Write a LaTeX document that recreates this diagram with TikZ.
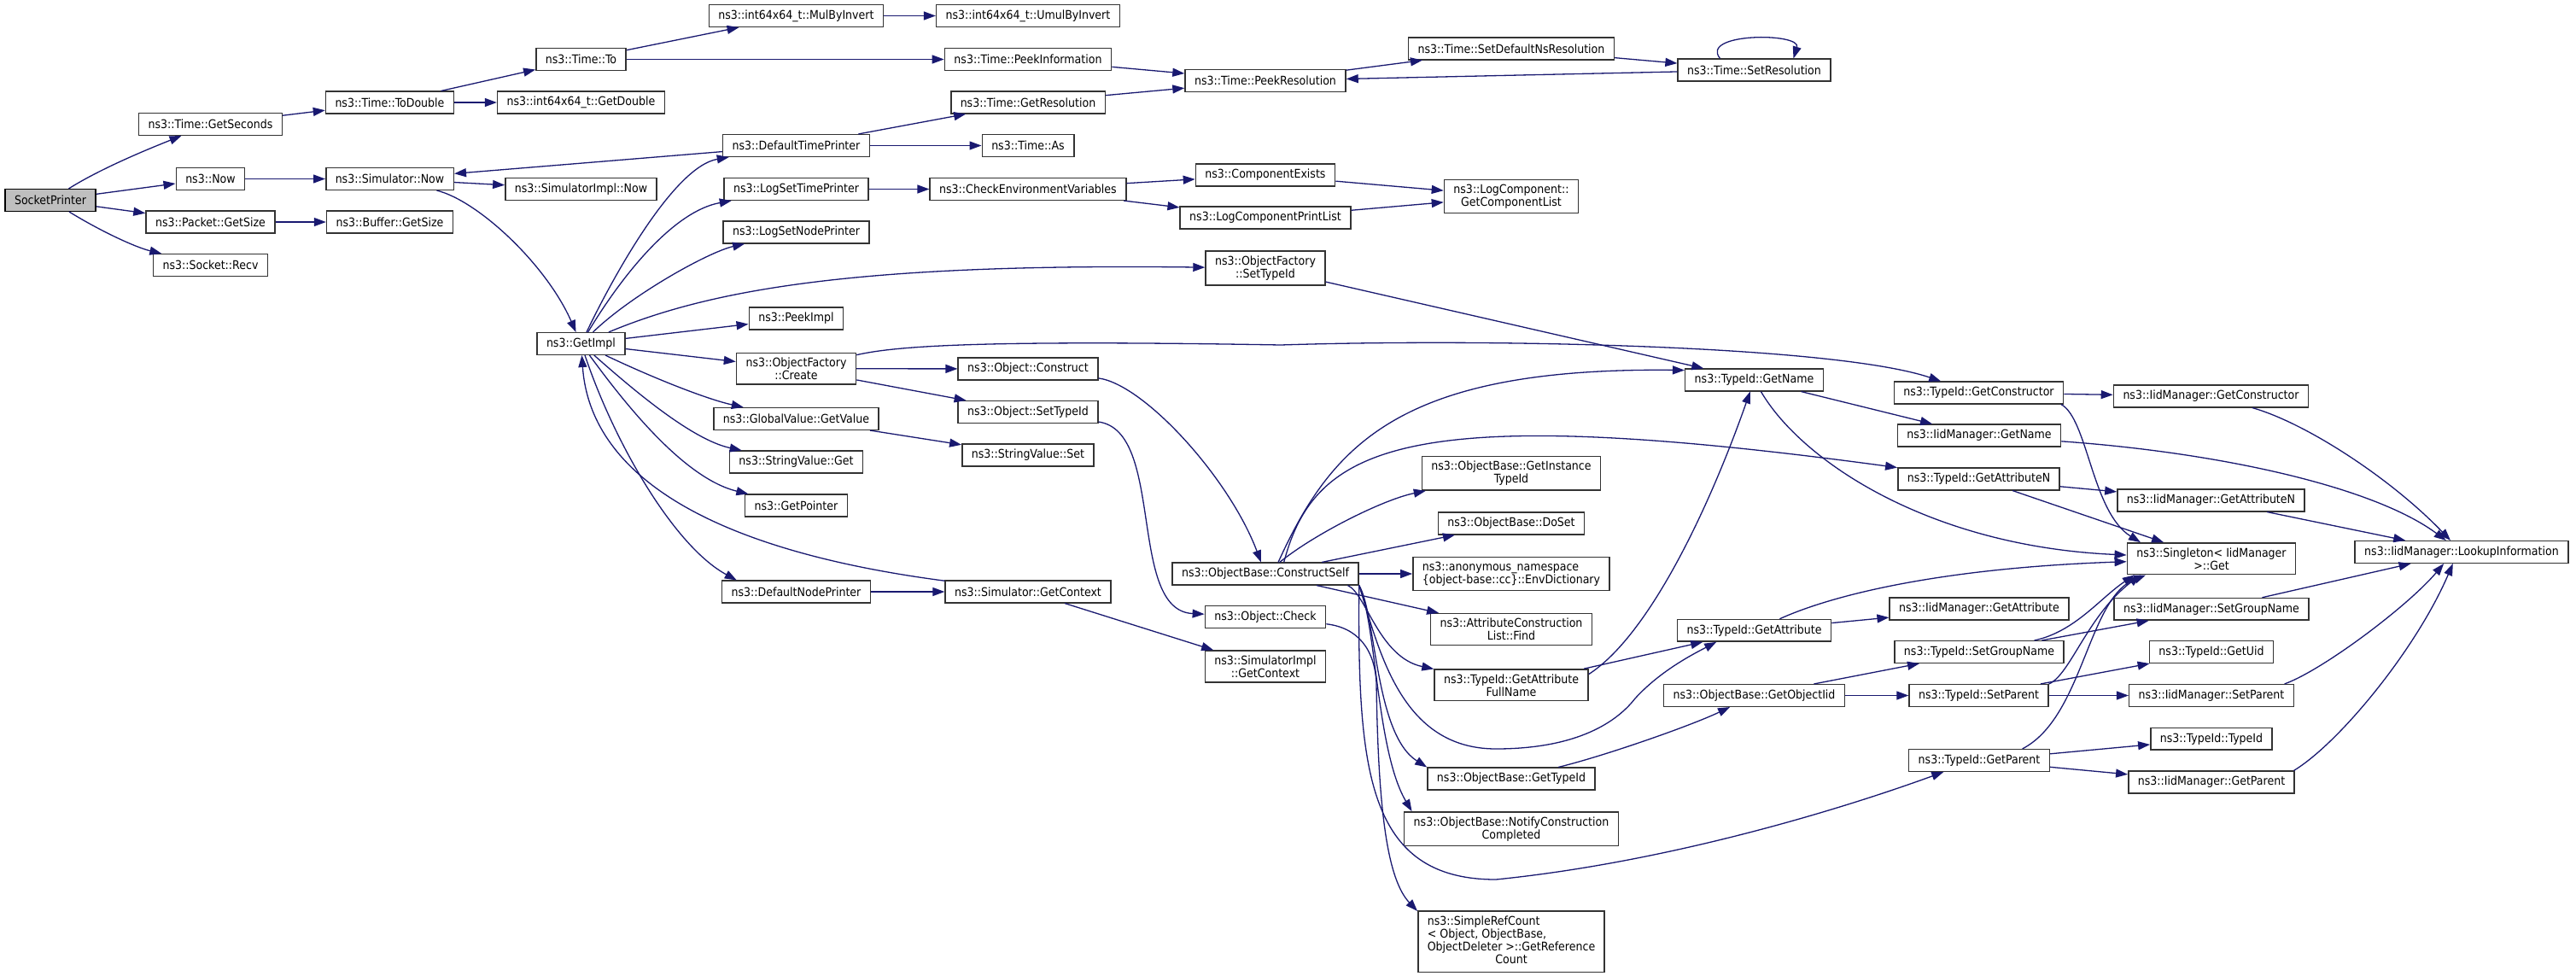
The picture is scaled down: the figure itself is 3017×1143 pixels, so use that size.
\documentclass[tikz,border=0pt]{standalone}
\usepackage{fontspec}
\setmainfont{DejaVu Sans Condensed}
\usetikzlibrary{arrows.meta}
\definecolor{edgeblue}{HTML}{191970}

\begin{document}
\begin{tikzpicture}[x=1pt, y=-1pt,
        fn/.style={draw=black!80, line width=1.5pt, fill=white, inner xsep=11pt, inner ysep=5.5pt,
            minimum height=25.6pt, font=\fontsize{14}{15}\selectfont, align=center},
        call/.style={draw=edgeblue, line width=1.3pt, -{Triangle[length=14pt, width=10pt]}}]

    \useasboundingbox (0, 0) rectangle (3017, 1143);

    \node[fn, draw=black, fill=gray!50] (root) at (59, 234.5) {SocketPrinter};

    \node[fn] (getsec) at (246.5, 145.5) {ns3::Time::GetSeconds};
    \node[fn] (now) at (246.5, 209.5) {ns3::Now};
    \node[fn] (pktsize) at (246.5, 260) {ns3::Packet::GetSize};
    \node[fn] (recv) at (246.5, 310.5) {ns3::Socket::Recv};

    \node[fn] (todouble) at (456.5, 120) {ns3::Time::ToDouble};
    \node[fn] (simnow) at (456.5, 209.5) {ns3::Simulator::Now};
    \node[fn] (bufsize) at (456.5, 260) {ns3::Buffer::GetSize};

    \node[fn] (timeto) at (680.5, 69.5) {ns3::Time::To};
    \node[fn] (getdouble) at (680.5, 120) {ns3::int64x64\_t::GetDouble};
    \node[fn] (implnow) at (680.5, 221.5) {ns3::SimulatorImpl::Now};
    \node[fn] (getimpl) at (680.5, 402.5) {ns3::GetImpl};

    \node[fn] (mulinv) at (932.5, 18.5) {ns3::int64x64\_t::MulByInvert};
    \node[fn] (deftime) at (932.5, 170.5) {ns3::DefaultTimePrinter};
    \node[fn] (logtime) at (932.5, 221.5) {ns3::LogSetTimePrinter};
    \node[fn] (lognode) at (932.5, 272) {ns3::LogSetNodePrinter};
    \node[fn] (peekimpl) at (932.5, 373) {ns3::PeekImpl};
    \node[fn] (create) at (932.5, 431.7) {ns3::ObjectFactory\\::Create};
    \node[fn] (getvalue) at (932.5, 490.5) {ns3::GlobalValue::GetValue};
    \node[fn] (strget) at (932.5, 541) {ns3::StringValue::Get};
    \node[fn] (getptr) at (932.5, 592) {ns3::GetPointer};
    \node[fn] (defnode) at (932.5, 693) {ns3::DefaultNodePrinter};

    \node[fn] (umulinv) at (1204, 18.5) {ns3::int64x64\_t::UmulByInvert};
    \node[fn] (peekinfo) at (1204, 69.5) {ns3::Time::PeekInformation};
    \node[fn] (getres) at (1204, 120) {ns3::Time::GetResolution};
    \node[fn] (timeas) at (1204, 170.5) {ns3::Time::As};
    \node[fn] (checkenv) at (1204, 221.5) {ns3::CheckEnvironmentVariables};
    \node[fn] (construct) at (1204, 432) {ns3::Object::Construct};
    \node[fn] (objsettid) at (1204, 482.5) {ns3::Object::SetTypeId};
    \node[fn] (strset) at (1204, 533) {ns3::StringValue::Set};
    \node[fn] (getctx) at (1204, 693) {ns3::Simulator::GetContext};

    \node[fn] (peekres) at (1482, 94.5) {ns3::Time::PeekResolution};
    \node[fn] (compexists) at (1482, 205) {ns3::ComponentExists};
    \node[fn] (printlist) at (1482, 255) {ns3::LogComponentPrintList};
    \node[fn] (factsettid) at (1482, 314) {ns3::ObjectFactory\\::SetTypeId};
    \node[fn] (cself) at (1482, 672) {ns3::ObjectBase::ConstructSelf};
    \node[fn] (check) at (1482, 722.5) {ns3::Object::Check};
    \node[fn] (implctx) at (1482, 780.5) {ns3::SimulatorImpl\\::GetContext};

    \node[fn] (setdefres) at (1770, 57) {ns3::Time::SetDefaultNsResolution};
    \node[fn] (complist) at (1770, 230) {ns3::LogComponent::\\GetComponentList};
    \node[fn] (instid) at (1770, 554.3) {ns3::ObjectBase::GetInstance\\TypeId};
    \node[fn] (doset) at (1770, 613) {ns3::ObjectBase::DoSet};
    \node[fn, align=left] (envdict) at (1770, 672) {ns3::anonymous\_namespace\\\{object-base::cc\}::EnvDictionary};
    \node[fn] (attrfind) at (1770, 737) {ns3::AttributeConstruction\\List::Find};
    \node[fn] (fullname) at (1770, 802.3) {ns3::TypeId::GetAttribute\\FullName};
    \node[fn] (gettid) at (1770, 912) {ns3::ObjectBase::GetTypeId};
    \node[fn] (notify) at (1770, 970.7) {ns3::ObjectBase::NotifyConstruction\\Completed};
    \node[fn] (refcount) at (1770, 1102.7) {\begin{tabular}{@{}l@{}}ns3::SimpleRefCount\\< Object, ObjectBase,\\ ObjectDeleter >::GetReference\\\multicolumn{1}{@{}c@{}}{Count}\end{tabular}};

    \node[fn] (setres) at (2054.5, 82) {ns3::Time::SetResolution};
    \node[fn] (tidname) at (2054.5, 445) {ns3::TypeId::GetName};
    \node[fn] (tidattr) at (2054.5, 738.3) {ns3::TypeId::GetAttribute};
    \node[fn] (objiid) at (2054.5, 814.5) {ns3::ObjectBase::GetObjectIid};

    \node[fn] (tidctor) at (2317.5, 460) {ns3::TypeId::GetConstructor};
    \node[fn] (iidname) at (2318, 510) {ns3::IidManager::GetName};
    \node[fn] (tidattrn) at (2317.5, 561) {ns3::TypeId::GetAttributeN};
    \node[fn] (iidattr) at (2318, 713) {ns3::IidManager::GetAttribute};
    \node[fn] (tidgroup) at (2318, 763.5) {ns3::TypeId::SetGroupName};
    \node[fn] (tidparent) at (2317.5, 814.5) {ns3::TypeId::SetParent};
    \node[fn] (tidgetparent) at (2318, 890.5) {ns3::TypeId::GetParent};

    \node[fn] (iidctor) at (2589.5, 464) {ns3::IidManager::GetConstructor};
    \node[fn] (iidattrn) at (2589.5, 586) {ns3::IidManager::GetAttributeN};
    \node[fn] (singleton) at (2590, 654.3) {ns3::Singleton< IidManager\\>::Get};
    \node[fn] (iidgroup) at (2590, 713.3) {ns3::IidManager::SetGroupName};
    \node[fn] (getuid) at (2590, 763.5) {ns3::TypeId::GetUid};
    \node[fn] (iidparent) at (2590, 814.5) {ns3::IidManager::SetParent};
    \node[fn] (tidtid) at (2590, 865.3) {ns3::TypeId::TypeId};
    \node[fn] (iidgetparent) at (2590, 916) {ns3::IidManager::GetParent};

    \node[fn] (lookup) at (2883, 646.5) {ns3::IidManager::LookupInformation};

    \draw[call] (root) .. controls (120, 196) and (180, 172) .. (getsec);
    \draw[call] (root) -- (now);
    \draw[call] (root) -- (pktsize);
    \draw[call] (root) .. controls (120, 272) and (160, 290) .. (recv);

    \draw[call] (getsec) -- (todouble);
    \draw[call] (now) -- (simnow);
    \draw[call] (pktsize) -- (bufsize);
    \draw[call] (todouble) -- (timeto);
    \draw[call] (todouble) -- (getdouble);
    \draw[call] (timeto) -- (mulinv);
    \draw[call] (timeto) -- (peekinfo);
    \draw[call] (mulinv) -- (umulinv);
    \draw[call] (peekinfo) -- (peekres);
    \draw[call] (getres) -- (peekres);
    \draw[call] (peekres) -- (setdefres);
    \draw[call] (setdefres) -- (setres);
    \draw[call] (setres) -- (peekres);
    \draw[call] ([xshift=-40pt]setres.north) .. controls (1990, 38) and (2110, 38) .. ([xshift=46pt]setres.north);

    \draw[call] (simnow) -- (implnow);
    \draw[call] (simnow) .. controls (560, 235) and (640, 310) .. (getimpl);
    \draw[call] (deftime) -- (simnow);

    \draw[call] (getimpl) .. controls (720, 320) and (790, 195) .. (deftime);
    \draw[call] (getimpl) .. controls (730, 320) and (790, 247) .. (logtime);
    \draw[call] (getimpl) .. controls (740, 345) and (830, 295) .. (lognode);
    \draw[call] (getimpl) .. controls (830, 340) and (1000, 308) .. (factsettid);
    \draw[call] (getimpl) -- (peekimpl);
    \draw[call] (getimpl) -- (create);
    \draw[call] (getimpl) .. controls (770, 445) and (830, 468) .. (getvalue);
    \draw[call] (getimpl) .. controls (740, 455) and (810, 515) .. (strget);
    \draw[call] (getimpl) .. controls (730, 470) and (800, 560) .. (getptr);
    \draw[call] (getimpl) .. controls (720, 520) and (790, 640) .. (defnode.169);
    \draw[call] (getctx) .. controls (800, 640) and (690, 540) .. (getimpl);

    \draw[call] (defnode) -- (getctx);
    \draw[call] (getctx) -- (implctx);
    \draw[call] (deftime) -- (getres);
    \draw[call] (deftime) -- (timeas);
    \draw[call] (logtime) -- (checkenv);
    \draw[call] (checkenv) -- (compexists);
    \draw[call] (checkenv) -- (printlist);
    \draw[call] (compexists) -- (complist);
    \draw[call] (printlist) -- (complist);
    \draw[call] (factsettid) -- (tidname);

    \draw[call] (create) .. controls (1050, 405) and (1150, 398) .. (1500, 404) .. controls (1750, 396) and (2150, 405) .. (tidctor.163);
    \draw[call] (create) -- (construct);
    \draw[call] (create) -- (objsettid);
    \draw[call] (getvalue) -- (strset);
    \draw[call] (construct) .. controls (1340, 450) and (1440, 560) .. (cself);
    \draw[call] (objsettid) .. controls (1365, 505) and (1320, 715) .. (check);

    \draw[call] (cself.42) .. controls (1560, 520) and (1640, 430) .. (tidname.172);
    \draw[call] (cself.32) .. controls (1540, 520) and (1650, 470) .. (tidattrn.172);
    \draw[call] (cself) .. controls (1540, 625) and (1620, 585) .. (instid);
    \draw[call] (cself) -- (doset);
    \draw[call] (cself) -- (envdict);
    \draw[call] (cself) -- (attrfind);
    \draw[call] (cself.352) .. controls (1600, 695) and (1615, 770) .. (fullname);
    \draw[call] (cself.353) .. controls (1615, 760) and (1640, 877) .. (1752, 877) .. controls (1840, 877) and (1890, 850) .. (1915, 818) .. controls (1945, 785) and (1985, 765) .. (tidattr.197);
    \draw[call] (cself.353) .. controls (1612, 720) and (1610, 860) .. (gettid.north west);
    \draw[call] (cself.353) .. controls (1612, 730) and (1612, 880) .. (notify.170);
    \draw[call] (cself.south east) .. controls (1590, 900) and (1600, 1030) .. (1752, 1030) .. controls (1950, 1010) and (2150, 950) .. (tidgetparent.198);
    \draw[call] (check) .. controls (1590, 735) and (1610, 760) .. (1612, 800) .. controls (1614, 950) and (1625, 1030) .. (refcount.162);

    \draw[call] (fullname) -- (tidattr);
    \draw[call] (fullname.8) .. controls (1930, 745) and (2000, 600) .. (tidname);
    \draw[call] (gettid) .. controls (1880, 885) and (1980, 850) .. (objiid);

    \draw[call] (tidname) -- (iidname);
    \draw[call] (tidname) .. controls (2110, 540) and (2260, 640) .. (singleton);
    \draw[call] (tidctor) -- (iidctor);
    \draw[call] (tidctor.352) .. controls (2445, 490) and (2450, 600) .. (singleton.167);
    \draw[call] (tidattrn) -- (iidattrn);
    \draw[call] (tidattrn) -- (singleton);
    \draw[call] (tidattr) -- (iidattr);
    \draw[call] (tidattr) .. controls (2150, 695) and (2280, 665) .. (singleton);
    \draw[call] (objiid) -- (tidgroup);
    \draw[call] (objiid) -- (tidparent);
    \draw[call] (tidgroup) -- (iidgroup);
    \draw[call] (tidgroup) .. controls (2430, 740) and (2460, 700) .. (singleton.192);
    \draw[call] (tidparent) -- (getuid);
    \draw[call] (tidparent) -- (iidparent);
    \draw[call] (tidparent.north east) .. controls (2425, 790) and (2445, 720) .. (singleton.193);
    \draw[call] (tidgetparent.15) .. controls (2440, 840) and (2445, 700) .. (singleton.194);
    \draw[call] (tidgetparent) -- (tidtid);
    \draw[call] (tidgetparent) -- (iidgetparent);

    \draw[call] (iidctor) .. controls (2700, 495) and (2800, 560) .. (lookup);
    \draw[call] (iidname) .. controls (2600, 530) and (2780, 570) .. (lookup);
    \draw[call] (iidattrn) -- (lookup);
    \draw[call] (iidgroup) -- (lookup);
    \draw[call] (iidparent.9) .. controls (2720, 785) and (2820, 710) .. (lookup.213);
    \draw[call] (iidgetparent.8) .. controls (2740, 870) and (2830, 760) .. (lookup.233);
\end{tikzpicture}
\end{document}
